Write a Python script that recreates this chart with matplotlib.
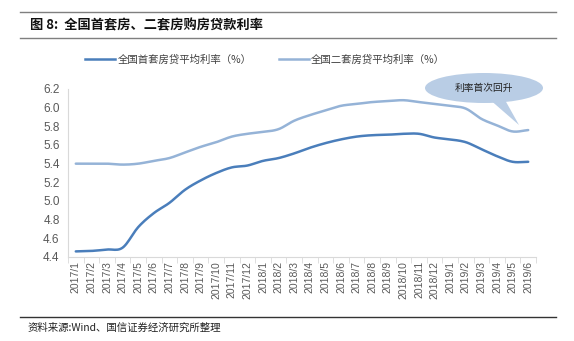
import numpy as np
import matplotlib
matplotlib.use("Agg")
import matplotlib.pyplot as plt
from matplotlib.patches import Ellipse, Polygon
from matplotlib.lines import Line2D

plt.rcParams['font.family'] = ['Noto Sans CJK SC', 'DejaVu Sans']

months = [f"2017/{m}" for m in range(1, 13)] + [f"2018/{m}" for m in range(1, 13)] + [f"2019/{m}" for m in range(1, 7)]

first_home = [4.46, 4.465, 4.48, 4.50, 4.72, 4.87, 4.98, 5.12, 5.22, 5.30, 5.36, 5.38,
              5.43, 5.46, 5.51, 5.57, 5.62, 5.66, 5.69, 5.705, 5.71, 5.72, 5.72, 5.68,
              5.66, 5.63, 5.555, 5.48, 5.42, 5.42]
second_home = [5.40, 5.40, 5.40, 5.39, 5.40, 5.43, 5.46, 5.52, 5.58, 5.63, 5.69, 5.72,
               5.74, 5.77, 5.86, 5.92, 5.97, 6.02, 6.04, 6.06, 6.07, 6.08, 6.06, 6.04,
               6.02, 5.99, 5.88, 5.81, 5.745, 5.76]

series_names = ["全国首套房贷平均利率（%）", "全国二套房贷平均利率（%）"]
title_text = "图 8:  全国首套房、二套房购房贷款利率"
source_text = "资料来源:Wind、国信证券经济研究所整理"
callout_text = "利率首次回升"
yticks = [4.4, 4.6, 4.8, 5.0, 5.2, 5.4, 5.6, 5.8, 6.0, 6.2]

c_dark = "#4a7ebb"
c_light = "#95b3d7"
grey = "#595959"
tick_font = ['Liberation Sans', 'DejaVu Sans']


def smooth(y, n=12):
    """Catmull-Rom curve through the data points, like a smoothed line chart."""
    y = np.asarray(y, float)
    x = np.arange(len(y), dtype=float)
    P = np.column_stack([x, y])
    P = np.vstack([P[0] - (P[1] - P[0]), P, P[-1] + (P[-1] - P[-2])])
    out = []
    t = np.linspace(0, 1, n, endpoint=False)[:, None]
    for i in range(1, len(P) - 2):
        p0, p1, p2, p3 = P[i - 1], P[i], P[i + 1], P[i + 2]
        seg = 0.5 * ((2 * p1) + (-p0 + p2) * t + (2 * p0 - 5 * p1 + 4 * p2 - p3) * t ** 2
                     + (-p0 + 3 * p1 - 3 * p2 + p3) * t ** 3)
        out.append(seg)
    out.append(P[-2][None, :])
    out = np.vstack(out)
    return out[:, 0], out[:, 1]


fig = plt.figure(figsize=(5.74, 3.41), dpi=100)
W, H = 574, 341
ax = fig.add_axes([68 / W, 1 - 257 / H, (536 - 68) / W, (257 - 89) / H])

x = np.arange(len(months))
sx, sy = smooth(second_home)
ax.plot(sx, sy, color=c_light, lw=1.8, solid_capstyle='round')
fx, fy = smooth(first_home)
ax.plot(fx, fy, color=c_dark, lw=1.8, solid_capstyle='round')

ax.set_xlim(-0.5, len(months) - 0.5)
ax.set_ylim(4.4, 6.2)
ax.set_yticks(yticks)
ax.set_yticklabels([f"{v:.1f}" for v in yticks], color=grey, fontsize=8.5, family=tick_font)
ax.set_xticks(x)
ax.set_xticklabels(months, rotation=90, color=grey, fontsize=7.5, family=tick_font)
ax.tick_params(axis='y', length=0, pad=6)
ax.tick_params(axis='x', length=0, pad=3)
ax.set_xticks(np.arange(len(months) + 1) - 0.5, minor=True)
ax.tick_params(axis='x', which='minor', length=4, color="#d9d9d9", direction='out')
for s in ['top', 'right']:
    ax.spines[s].set_visible(False)
for s in ['left', 'bottom']:
    ax.spines[s].set_color("#d9d9d9")
    ax.spines[s].set_linewidth(0.8)

# Callout bubble
bubble = Ellipse((484, H - 88), 118, 30, transform=None, facecolor="#b9cde5",
                 edgecolor="none", zorder=5)
fig.patches.append(bubble)
tail = Polygon([(488, H - 98), (505, H - 100), (519, H - 125)], closed=True,
               transform=None, facecolor="#b9cde5", edgecolor="none", zorder=5)
fig.patches.append(tail)
fig.text(484 / W, 1 - 88 / H, callout_text, ha='center', va='center', fontsize=7,
         color="#222222", zorder=6)

# Legend
handles = [Line2D([], [], color=c_dark, lw=1.8), Line2D([], [], color=c_light, lw=1.8)]
fig.legend(handles, series_names, loc='center', bbox_to_anchor=(265 / W, 1 - 60 / H),
           ncol=2, frameon=False, fontsize=7.5, handlelength=2.9, handletextpad=0.2,
           columnspacing=2.6, labelcolor="#404040")

# Header and footer rules
for yy, col in [(12, "#7f7f7f"), (38, "#7f7f7f"), (317, "#333333")]:
    fig.add_artist(Line2D([20 / W, 556 / W], [1 - yy / H, 1 - yy / H], color=col, lw=1.0))
fig.text(30 / W, 1 - 25 / H, title_text, ha='left', va='center', fontsize=9.5,
         fontweight='bold', color="#111111")
fig.text(28 / W, 1 - 328 / H, source_text, ha='left', va='center', fontsize=7.5,
         color="#222222")

fig.savefig("out.png", dpi=100)
